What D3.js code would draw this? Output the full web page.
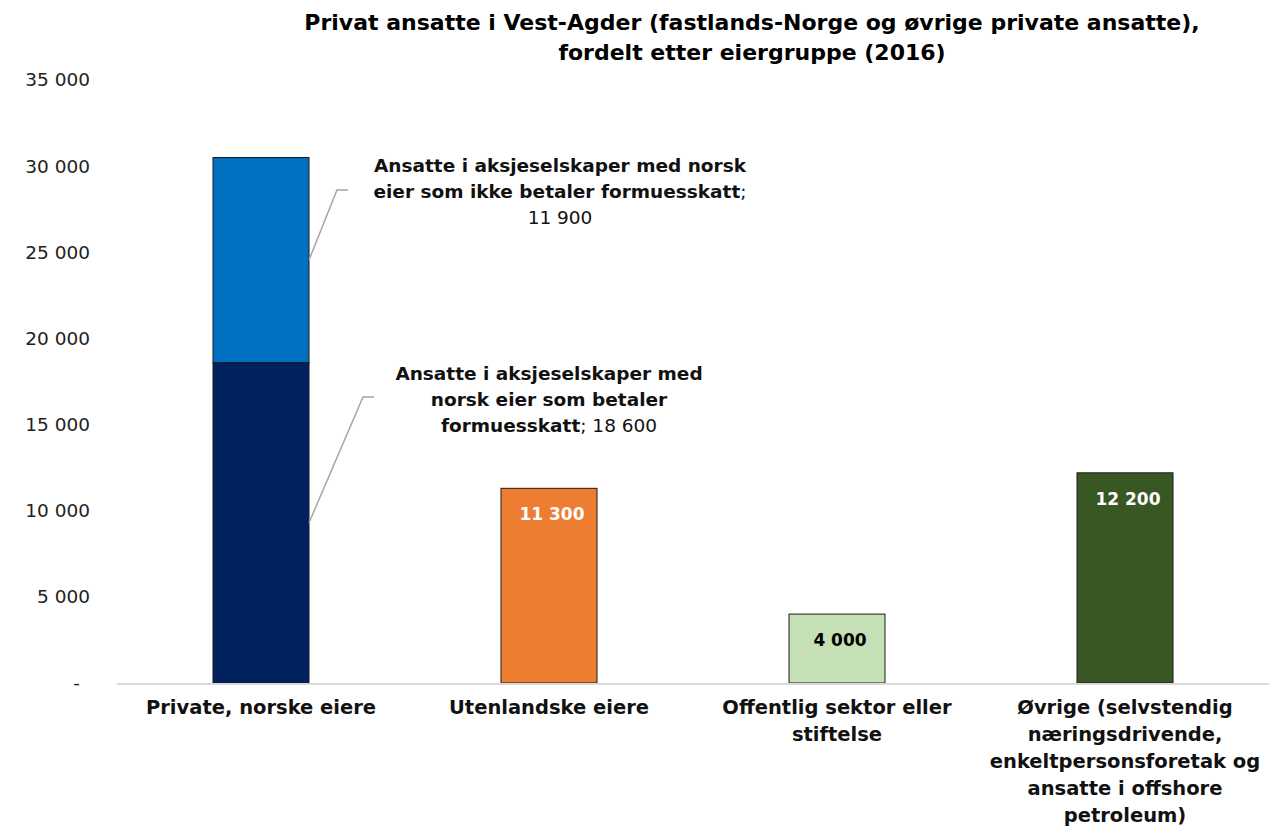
<!DOCTYPE html>
<html>
<head>
<meta charset="utf-8">
<script src="https://cdn.jsdelivr.net/npm/d3@7"></script>
<style>
  body { margin: 0; background: #fff; }
  text { font-family: "DejaVu Sans", sans-serif; }
</style>
</head>
<body>
<script>
// data
var categories = ["Private, norske eiere", "Utenlandske eiere", "Offentlig sektor eller stiftelse",
  "Øvrige (selvstendig næringsdrivende, enkeltpersonsforetak og ansatte i offshore petroleum)"];
var categoryLines = [
  ["Private, norske eiere"],
  ["Utenlandske eiere"],
  ["Offentlig sektor eller", "stiftelse"],
  ["Øvrige (selvstendig", "næringsdrivende,", "enkeltpersonsforetak og", "ansatte i offshore", "petroleum)"]
];
var betalerFormuesskatt = [18600, 0, 0, 0];
var ikkeFormuesskatt = [11900, 0, 0, 0];
var andreEiere = [0, 11300, 4000, 12200];
var andreColors = ["#ffffff", "#ED7D31", "#C5E0B4", "#385723"];
var andreLabelColors = ["#fff", "#fff", "#000", "#fff"];
var yTicks = [0, 5000, 10000, 15000, 20000, 25000, 30000, 35000];

var width = 1276, height = 837;
var margin = {top: 80, right: 7, bottom: 154, left: 117};

var nb = d3.formatLocale({decimal: ",", thousands: " ", grouping: [3], currency: ["", ""]});
var fmt = nb.format(",d");

var svg = d3.select("body").append("svg")
    .attr("width", width)
    .attr("height", height);

var x = d3.scaleBand()
    .domain(categories)
    .range([margin.left, width - margin.right])
    .paddingInner(2/3)
    .paddingOuter(1/3);

var y = d3.scaleLinear()
    .domain([0, 35000])
    .range([height - margin.bottom, margin.top]);

// title
svg.append("text")
    .attr("x", 752).attr("y", 30)
    .attr("text-anchor", "middle")
    .attr("font-size", 22).attr("font-weight", "bold")
    .selectAll("tspan")
    .data(["Privat ansatte i Vest-Agder (fastlands-Norge og øvrige private ansatte),", "fordelt etter eiergruppe (2016)"])
    .enter().append("tspan")
    .attr("x", 752)
    .attr("dy", function(d, i) { return i ? 30 : 0; })
    .text(function(d) { return d; });

// y axis
var yAxis = svg.append("g")
    .attr("transform", "translate(" + (margin.left - 27) + ",0)")
    .call(d3.axisLeft(y).tickValues(yTicks).tickSize(0).tickPadding(0)
        .tickFormat(function(d) { return d === 0 ? "-" : fmt(d); }));
yAxis.select(".domain").remove();
yAxis.selectAll("text")
    .attr("font-size", 18.5).attr("fill", "#222")
    .attr("font-family", "DejaVu Sans, sans-serif")
    .attr("dx", function(d) { return d === 0 ? -10 : 0; });

// stacked data
var rows = categories.map(function(c, i) {
  return {cat: c, betaler: betalerFormuesskatt[i], ikke: ikkeFormuesskatt[i], andre: andreEiere[i], idx: i};
});
var stack = d3.stack().keys(["betaler", "ikke", "andre"]);
var series = stack(rows);
var seriesColor = {betaler: "#002060", ikke: "#0070C0"};

svg.append("g").selectAll("g")
    .data(series)
    .enter().append("g")
    .selectAll("rect")
    .data(function(s) { return s.map(function(d) { d.key = s.key; return d; }); })
    .enter().filter(function(d) { return d[1] - d[0] > 0; })
    .append("rect")
    .attr("x", function(d) { return x(d.data.cat); })
    .attr("width", x.bandwidth())
    .attr("y", function(d) { return y(d[1]); })
    .attr("height", function(d) { return y(d[0]) - y(d[1]); })
    .attr("fill", function(d) { return d.key === "andre" ? andreColors[d.data.idx] : seriesColor[d.key]; })
    .attr("stroke", "#1a1a1a")
    .attr("stroke-width", 1);

// baseline
svg.append("line")
    .attr("x1", margin.left).attr("x2", width - margin.right)
    .attr("y1", y(0) + 1).attr("y2", y(0) + 1)
    .attr("stroke", "#d9d9d9").attr("stroke-width", 2);

// value labels inside the single bars
svg.append("g").selectAll("text")
    .data(rows.filter(function(d) { return d.andre > 0; }))
    .enter().append("text")
    .attr("x", function(d) { return x(d.cat) + x.bandwidth() / 2 + 3; })
    .attr("y", function(d) { return y(d.andre) + 32; })
    .attr("text-anchor", "middle")
    .attr("font-size", 17).attr("font-weight", "bold")
    .attr("fill", function(d) { return andreLabelColors[d.idx]; })
    .text(function(d) { return fmt(d.andre); });

// category labels
var catG = svg.append("g").selectAll("text")
    .data(categories)
    .enter().append("text")
    .attr("text-anchor", "middle")
    .attr("font-size", 19.5).attr("font-weight", "bold")
    .attr("fill", "#111");
catG.selectAll("tspan")
    .data(function(d, i) { return categoryLines[i].map(function(l) { return {l: l, c: d}; }); })
    .enter().append("tspan")
    .attr("x", function(d) { return x(d.c) + x.bandwidth() / 2; })
    .attr("y", function(d, i) { return y(0) + 31 + i * 27; })
    .text(function(d) { return d.l; });

// callouts for stacked segments of the first bar
var c0 = categories[0];
var barRight = x(c0) + x.bandwidth();
var callouts = [
  {mid: betalerFormuesskatt[0] / 2, elbow: [363, 397], tx: 549, ty: 380,
   lines: [[["Ansatte i aksjeselskaper med", "bold"]], [["norsk eier som betaler", "bold"]],
           [["formuesskatt", "bold"], ["; " + fmt(betalerFormuesskatt[0]), "normal"]]]},
  {mid: betalerFormuesskatt[0] + ikkeFormuesskatt[0] / 2, elbow: [337, 190], tx: 560, ty: 172,
   lines: [[["Ansatte i aksjeselskaper med norsk", "bold"]],
           [["eier som ikke betaler formuesskatt", "bold"], [";", "normal"]],
           [[fmt(ikkeFormuesskatt[0]), "normal"]]]}
];

callouts.forEach(function(c) {
  svg.append("polyline")
      .attr("points", [[barRight, y(c.mid)], c.elbow, [c.elbow[0] + 11, c.elbow[1]]].map(function(p) { return p.join(","); }).join(" "))
      .attr("fill", "none").attr("stroke", "#a6a6a6").attr("stroke-width", 1.5);
  c.lines.forEach(function(parts, i) {
    var t = svg.append("text")
        .attr("x", c.tx).attr("y", c.ty + i * 26)
        .attr("text-anchor", "middle")
        .attr("font-size", 18.5).attr("fill", "#111");
    parts.forEach(function(p) {
      t.append("tspan").attr("font-weight", p[1]).text(p[0]);
    });
  });
});
</script>
</body>
</html>
